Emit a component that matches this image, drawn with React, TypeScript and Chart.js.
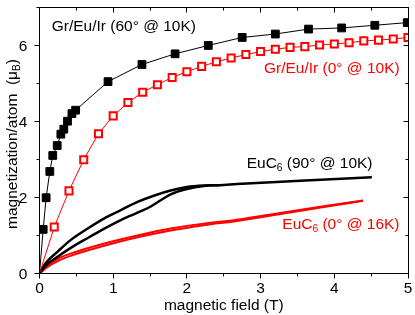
import React, { useEffect, useRef } from 'react';
import { Chart, registerables } from 'chart.js';

Chart.register(...registerables);

const FONT = '"Liberation Sans", Arial, sans-serif';
const RED = 'rgb(255,0,0)';

// Tick labels
const xTickValues = [0, 1, 2, 3, 4, 5];
const yTickValues = [0, 2, 4, 6];

// Gr/Eu/Ir (60° @ 10K) — filled black squares
const grEuIr60X = [0, 0.05, 0.09, 0.14, 0.18, 0.24, 0.29, 0.33, 0.38, 0.44, 0.49, 0.93, 1.39, 1.84, 2.29, 2.75, 3.2, 3.65, 4.1, 4.55, 4.99];
const grEuIr60Y = [0, 1.16, 1.99, 2.68, 3.1, 3.36, 3.66, 3.79, 4.0, 4.2, 4.29, 5.04, 5.49, 5.77, 5.99, 6.2, 6.29, 6.42, 6.45, 6.52, 6.59];

// Gr/Eu/Ir (0° @ 10K) — open red squares
const grEuIr0X = [0, 0.2, 0.4, 0.6, 0.8, 1.0, 1.2, 1.4, 1.6, 1.8, 2.0, 2.2, 2.4, 2.6, 2.8, 3.0, 3.2, 3.4, 3.6, 3.8, 4.0, 4.2, 4.4, 4.6, 4.8, 5.0];
const grEuIr0Y = [0, 1.22, 2.17, 2.99, 3.67, 4.14, 4.49, 4.76, 4.96, 5.15, 5.3, 5.44, 5.56, 5.66, 5.75, 5.83, 5.89, 5.94, 5.96, 6.0, 6.03, 6.06, 6.11, 6.13, 6.16, 6.2];

// EuC6 (90° @ 10K) — hysteresis branches
const euc90UpX = [0, 0.08, 0.26, 0.43, 0.66, 0.88, 1.11, 1.33, 1.56, 1.78, 2.0, 2.23, 2.44, 2.68, 3.47, 4.51];
const euc90UpY = [0, 0.26, 0.6, 0.89, 1.19, 1.45, 1.67, 1.88, 2.05, 2.18, 2.27, 2.31, 2.32, 2.35, 2.43, 2.53];
const euc90DownX = [0, 0.08, 0.26, 0.43, 0.66, 0.88, 1.11, 1.33, 1.51, 1.65, 1.78, 2.0, 2.23, 2.44];
const euc90DownY = [0, 0.2, 0.46, 0.68, 0.94, 1.18, 1.41, 1.6, 1.76, 1.93, 2.08, 2.22, 2.3, 2.32];

// EuC6 (0° @ 16K) — two nearly overlapping branches
const euc0UpX = [0, 0.1, 0.26, 0.43, 0.88, 1.33, 1.78, 2.23, 2.68, 3.33, 3.9, 4.39];
const euc0UpY = [0, 0.2, 0.4, 0.53, 0.79, 1.0, 1.18, 1.31, 1.41, 1.61, 1.78, 1.92];
const euc0DownX = [0, 0.1, 0.26, 0.43, 0.88, 1.33, 1.78, 2.23, 2.68, 3.33, 3.9, 4.39];
const euc0DownY = [0, 0.16, 0.34, 0.47, 0.73, 0.95, 1.13, 1.27, 1.38, 1.58, 1.76, 1.91];

const xTitle = 'magnetic field (T)';
const yTitleMain = 'magnetization/atom  (\u03bc';
const yTitleSub = 'B';
const yTitleEnd = ')';

type Part = { t: string; sub?: boolean };

function drawRich(ctx: CanvasRenderingContext2D, parts: Part[], x: number, y: number, size: number, color: string) {
  ctx.fillStyle = color;
  ctx.textAlign = 'left';
  ctx.textBaseline = 'alphabetic';
  let cx = x;
  for (const p of parts) {
    const s = p.sub ? size * 0.66 : size;
    ctx.font = `${s}px ${FONT}`;
    ctx.fillText(p.t, cx, p.sub ? y + 3 : y);
    cx += ctx.measureText(p.t).width;
  }
}

function richWidth(ctx: CanvasRenderingContext2D, parts: Part[], size: number) {
  let w = 0;
  for (const p of parts) {
    const s = p.sub ? size * 0.66 : size;
    ctx.font = `${s}px ${FONT}`;
    w += ctx.measureText(p.t).width;
  }
  return w;
}

const zip = (xs: number[], ys: number[]) => xs.map((x, i) => ({ x, y: ys[i] }));

export default function App() {
  const ref = useRef<HTMLCanvasElement>(null);

  useEffect(() => {
    document.body.style.margin = '0';
    const canvas = ref.current;
    if (!canvas) return;

    const crisp = (p: number) => Math.floor(p) + 0.5;

    const framePlugin = {
      id: 'frameAndText',
      afterDraw(chart: any) {
        const { ctx, chartArea: a, scales } = chart;
        const xs = scales.x;
        const ys = scales.y;
        ctx.save();
        ctx.strokeStyle = '#000';
        ctx.lineWidth = 1;
        const L = crisp(a.left), R = crisp(a.right), T = crisp(a.top), B = crisp(a.bottom);
        ctx.strokeRect(L, T, R - L, B - T);
        ctx.beginPath();
        for (let i = 0; i <= 10; i++) {
          const px = crisp(xs.getPixelForValue(i / 2));
          const len = i % 2 === 0 ? 5 : 3;
          ctx.moveTo(px, B);
          ctx.lineTo(px, B + len);
          ctx.moveTo(px, T);
          ctx.lineTo(px, T + len);
        }
        for (let v = 0; v <= 7; v++) {
          const py = crisp(ys.getPixelForValue(v));
          const len = v % 2 === 0 ? 5 : 3;
          ctx.moveTo(L, py);
          ctx.lineTo(L - len, py);
          ctx.moveTo(R, py);
          ctx.lineTo(R - len, py);
        }
        ctx.stroke();

        const size = 15.5;
        ctx.fillStyle = '#000';
        ctx.font = `${size}px ${FONT}`;
        ctx.textBaseline = 'alphabetic';

        // tick labels
        ctx.textAlign = 'center';
        for (const v of xTickValues) {
          ctx.fillText(String(v), xs.getPixelForValue(v), 292.7);
        }
        ctx.textAlign = 'right';
        for (const v of yTickValues) {
          ctx.fillText(String(v), 27.3, ys.getPixelForValue(v) + 5.5);
        }

        // x title
        ctx.textAlign = 'center';
        ctx.fillText(xTitle, (a.left + a.right) / 2, 310);

        // y title (rotated)
        const yParts: Part[] = [{ t: yTitleMain }, { t: yTitleSub, sub: true }, { t: yTitleEnd }];
        const w = richWidth(ctx, yParts, size);
        ctx.save();
        ctx.translate(16.5, 144);
        ctx.rotate(-Math.PI / 2);
        drawRich(ctx, yParts, -w / 2, 0, size, '#000');
        ctx.restore();

        // annotations
        drawRich(ctx, [{ t: 'Gr/Eu/Ir (60\u00b0 @ 10K)' }], 51.7, 31, size, '#000');
        drawRich(ctx, [{ t: 'Gr/Eu/Ir (0\u00b0 @ 10K)' }], 264, 73, size, RED);
        drawRich(ctx, [{ t: 'EuC' }, { t: '6', sub: true }, { t: ' (90\u00b0 @ 10K)' }], 246.7, 167.5, size, '#000');
        drawRich(ctx, [{ t: 'EuC' }, { t: '6', sub: true }, { t: ' (0\u00b0 @ 16K)' }], 282.3, 228.5, size, RED);
        ctx.restore();
      },
    };

    const chart = new Chart(canvas, {
      type: 'line',
      data: {
        datasets: [
          {
            data: zip(grEuIr60X, grEuIr60Y),
            borderColor: '#000',
            borderWidth: 1,
            pointStyle: 'rect',
            pointRadius: (c: any) => (c.dataIndex === 0 ? 0 : 5.5),
            pointBackgroundColor: '#000',
            pointBorderColor: '#000',
            pointBorderWidth: 1,
            tension: 0,
          },
          {
            data: zip(grEuIr0X, grEuIr0Y),
            borderColor: RED,
            borderWidth: 1,
            pointStyle: 'rect',
            pointRadius: (c: any) => (c.dataIndex === 0 ? 0 : 5),
            pointBackgroundColor: '#fff',
            pointBorderColor: RED,
            pointBorderWidth: 2,
            tension: 0,
          },
          {
            data: zip(euc90UpX, euc90UpY),
            borderColor: '#000',
            borderWidth: 2.5,
            pointRadius: 0,
            cubicInterpolationMode: 'monotone',
          },
          {
            data: zip(euc90DownX, euc90DownY),
            borderColor: '#000',
            borderWidth: 2.5,
            pointRadius: 0,
            cubicInterpolationMode: 'monotone',
          },
          {
            data: zip(euc0UpX, euc0UpY),
            borderColor: RED,
            borderWidth: 2,
            pointRadius: 0,
            cubicInterpolationMode: 'monotone',
          },
          {
            data: zip(euc0DownX, euc0DownY),
            borderColor: RED,
            borderWidth: 2,
            pointRadius: 0,
            cubicInterpolationMode: 'monotone',
          },
        ],
      } as any,
      options: {
        animation: false,
        responsive: false,
        devicePixelRatio: 1,
        layout: { padding: { top: 0.5, right: 4.5, left: 0, bottom: 0 } },
        plugins: { legend: { display: false }, tooltip: { enabled: false } },
        scales: {
          x: {
            type: 'linear',
            min: 0,
            max: 5,
            grid: { display: false },
            border: { display: false },
            ticks: { display: false, stepSize: 1 },
            afterFit: (s: any) => {
              s.height = 41.5;
              s.paddingLeft = 0;
              s.paddingRight = 0;
            },
          },
          y: {
            type: 'linear',
            min: 0,
            max: 7,
            grid: { display: false },
            border: { display: false },
            ticks: { display: false, stepSize: 2 },
            afterFit: (s: any) => {
              s.width = 39.5;
              s.paddingTop = 0;
              s.paddingBottom = 0;
            },
          },
        },
      } as any,
      plugins: [framePlugin],
    });

    return () => chart.destroy();
  }, []);

  return (
    <div style={{ position: 'absolute', left: 0, top: 0, width: 415, height: 315 }}>
      <canvas ref={ref} width={415} height={315} style={{ display: 'block' }} />
    </div>
  );
}
